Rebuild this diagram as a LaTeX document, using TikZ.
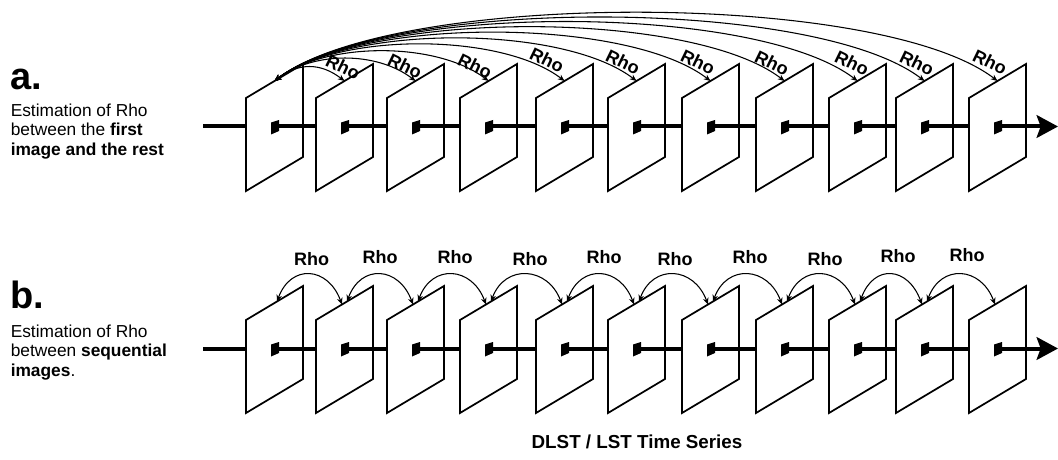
\documentclass[tikz,border=0pt]{standalone}
\usepackage{fontspec}
\setmainfont{Liberation Sans}
\usetikzlibrary{arrows.meta,calc}
\begin{document}
\begin{tikzpicture}[x=0.75pt,y=-0.75pt,
  plate/.style={draw=black,fill=white,line width=1.3pt,line join=miter},
  timeline/.style={draw=black,line width=3pt,line cap=butt},
  rhoarc/.style={draw=black,line width=0.8pt,{Stealth[length=5pt,width=4.2pt]}-{Stealth[length=5pt,width=4.2pt]}},
  rhotext/.style={font=\bfseries\fontsize{13.5}{16}\selectfont,inner sep=0pt},
  body/.style={font=\fontsize{13}{15.6}\selectfont,inner sep=0pt,anchor=base west},
  panel/.style={font=\bfseries\fontsize{28.5}{34}\selectfont,inner sep=0pt,anchor=base west}
]
\useasboundingbox[fill=white] (0,0) rectangle (1058,460);

% corners, top-edge points and piercing points of the image plates (rows a and b)
\foreach \L [count=\i] in {246,316,387,460,536,608,682,756,829,896,969}{
  \foreach \p/\T in {a/98,b/320}{
    \coordinate (\p\i-tl) at (\L,\T);
    \coordinate (\p\i-tr) at (\L+57,\T-34);
    \coordinate (\p\i-br) at (\L+57,\T+59);
    \coordinate (\p\i-bl) at (\L,\T+93);
    \coordinate (\p\i-top) at (\L+28.5,\T-17);
    \coordinate (\p\i-s) at (\L+31,\T-18.5);
    \coordinate (\p\i-e) at (\L+26,\T-15.5);
    \coordinate (\p\i-hole) at (\L+33,\T+28.5);
    \coordinate (\p\i-exit) at (\L+58,\T+28.5);
  }
}
\coordinate (a-start) at (203,126.5);
\coordinate (a-end) at (1058,126.5);
\coordinate (b-start) at (203,348.5);
\coordinate (b-end) at (1058,348.5);

% time axis with the stacked image plates
\foreach \p in {a,b}{
  \draw[timeline,-{Stealth[length=16pt,width=17pt,inset=3pt]}] (\p-start) -- (\p-end);
  \foreach \i in {1,...,11}{
    \draw[plate] (\p\i-tl) -- (\p\i-tr) -- (\p\i-br) -- (\p\i-bl) -- cycle;
    \fill ($(\p\i-hole)+(-8,-4)$) -- ($(\p\i-hole)+(0,-6.5)$) -- ($(\p\i-hole)+(0,4.5)$) -- ($(\p\i-hole)+(-8,8)$) -- cycle;
    \draw[timeline] (\p\i-hole) -- (\p\i-exit);
  }
}

% row a: correlation of the first image with every later one
\foreach \L/\dx/\dy [count=\k] in {316/-1.5/-14,387/-10.5/-15,460/-13.5/-15,536/-17.5/-21,608/-13.5/-19,682/-12.5/-19,756/-12.5/-18,829/-5.5/-18,896/-7.5/-18,969/-7.5/-19}{
  \pgfmathsetmacro\vv{0.765*pow(\L-246,0.682)/0.75}
  \pgfmathsetmacro\uu{1.3*\vv}
  \pgfmathtruncatemacro\j{\k+1}
  \draw[rhoarc] (a1-top) .. controls ($(a1-top)+(\uu,-\vv)$) and ($(a\j-top)+(-\uu,-\vv)$) .. (a\j-top);
  \node[rhotext,rotate=-26] (ra\j) at ($(a\j-top)+(\dx,\dy)$) {Rho};
}

% row b: correlation between consecutive images
\foreach \i in {1,...,10}{
  \pgfmathtruncatemacro\j{\i+1}
  \draw[rhoarc] (b\i-s) .. controls ($(b\i-s)+(14,-38)$) and ($(b\j-e)+(-14,-38)$) .. (b\j-e);
}
\foreach \lx/\ly [count=\i] in {311.7/259,380/257,455/257,530/259,604/257,675/259,750/257,825/259,898/256,967/255}{
  \node[rhotext] (rb\i) at (\lx,\ly) {Rho};
}

% captions
\node[panel] (lab-a) at (10.5,90) {a.};
\node[body] (txt-a1) at (10.5,116.5) {Estimation of Rho};
\node[body] (txt-a2) at (10.5,136) {between the \textbf{first}};
\node[body] (txt-a3) at (10.5,155.5) {\textbf{image and the rest}};
\node[panel] (lab-b) at (10.5,308.3) {b.};
\node[body] (txt-b1) at (10.5,337) {Estimation of Rho};
\node[body] (txt-b2) at (10.5,356.5) {between \textbf{sequential}};
\node[body] (txt-b3) at (10.5,376) {\textbf{images}.};
\node[font=\bfseries\fontsize{14.1}{17}\selectfont,inner sep=0pt,anchor=base] (title) at (637,448) {DLST / LST Time Series};
\end{tikzpicture}
\end{document}
